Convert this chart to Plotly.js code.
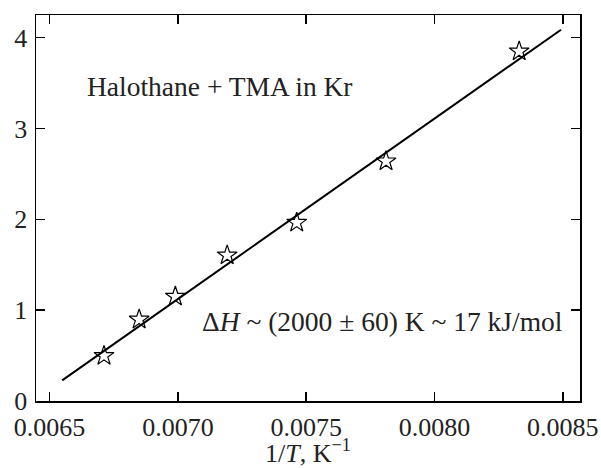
<!DOCTYPE html>
<html>
<head>
<meta charset="utf-8">
<script src="https://cdn.plot.ly/plotly-3.0.1.min.js"></script>
<style>html,body{margin:0;padding:0;background:#fff;}#chart{width:601px;height:468px;}</style>
</head>
<body>
<div id="chart"></div>
<script>
// Measured data (1/T in K^-1, y values)
const invT = [0.006712, 0.006849, 0.006990, 0.007192, 0.007463, 0.007811, 0.008330];
const yVals = [0.497, 0.898, 1.150, 1.604, 1.964, 2.640, 3.850];
// Linear fit line endpoints
const fitX = [0.006549, 0.008493];
const fitY = [0.227, 4.088];
const xTicks = [0.0065, 0.0070, 0.0075, 0.0080, 0.0085];
const xTickText = ["0.0065", "0.0070", "0.0075", "0.0080", "0.0085"];
const yTicks = [0, 1, 2, 3, 4];

const font = "Liberation Serif";

const traces = [
  {x: fitX, y: fitY, mode: 'lines', line: {color: '#000', width: 2}, hoverinfo: 'skip', showlegend: false},
  {x: invT, y: yVals, mode: 'markers',
   marker: {symbol: 'star-open', size: 15, color: '#000', line: {color: '#000', width: 1.2}},
   showlegend: false}
];

const axisCommon = {
  showline: true, linecolor: '#000', linewidth: 1.5, mirror: 'ticks',
  ticks: 'inside', ticklen: 9, tickwidth: 1.5, tickcolor: '#000',
  showgrid: false, zeroline: false,
  tickfont: {family: font, size: 26, color: '#222'}
};

const layout = {
  width: 601, height: 468,
  margin: {l: 36, r: 21, t: 15, b: 67},
  paper_bgcolor: '#fff', plot_bgcolor: '#fff',
  font: {family: font, color: '#222'},
  xaxis: Object.assign({}, axisCommon, {
    range: [0.006447, 0.008567],
    tickvals: xTicks, ticktext: xTickText,
    ticklabelstandoff: 2,
    title: {text: '1/<i>T</i>, K<sup>−1</sup>', font: {family: font, size: 26, color: '#222'}, standoff: 2}
  }),
  yaxis: Object.assign({}, axisCommon, {
    range: [0, 4.25],
    tickvals: yTicks,
    ticklabelstandoff: 2
  }),
  annotations: [
    {x: 0.006638, y: 3.46, xref: 'x', yref: 'y', xanchor: 'left', yanchor: 'middle', showarrow: false,
     text: 'Halothane + TMA in Kr', font: {family: font, size: 27.5, color: '#222'}},
    {x: 0.007086, y: 0.87, xref: 'x', yref: 'y', xanchor: 'left', yanchor: 'middle', showarrow: false,
     text: 'Δ<i>H</i> ~ (2000 ± 60) K ~ 17 kJ/mol', font: {family: font, size: 27.5, color: '#222'}}
  ]
};

Plotly.newPlot('chart', traces, layout, {displayModeBar: false, staticPlot: true});
</script>
</body>
</html>
